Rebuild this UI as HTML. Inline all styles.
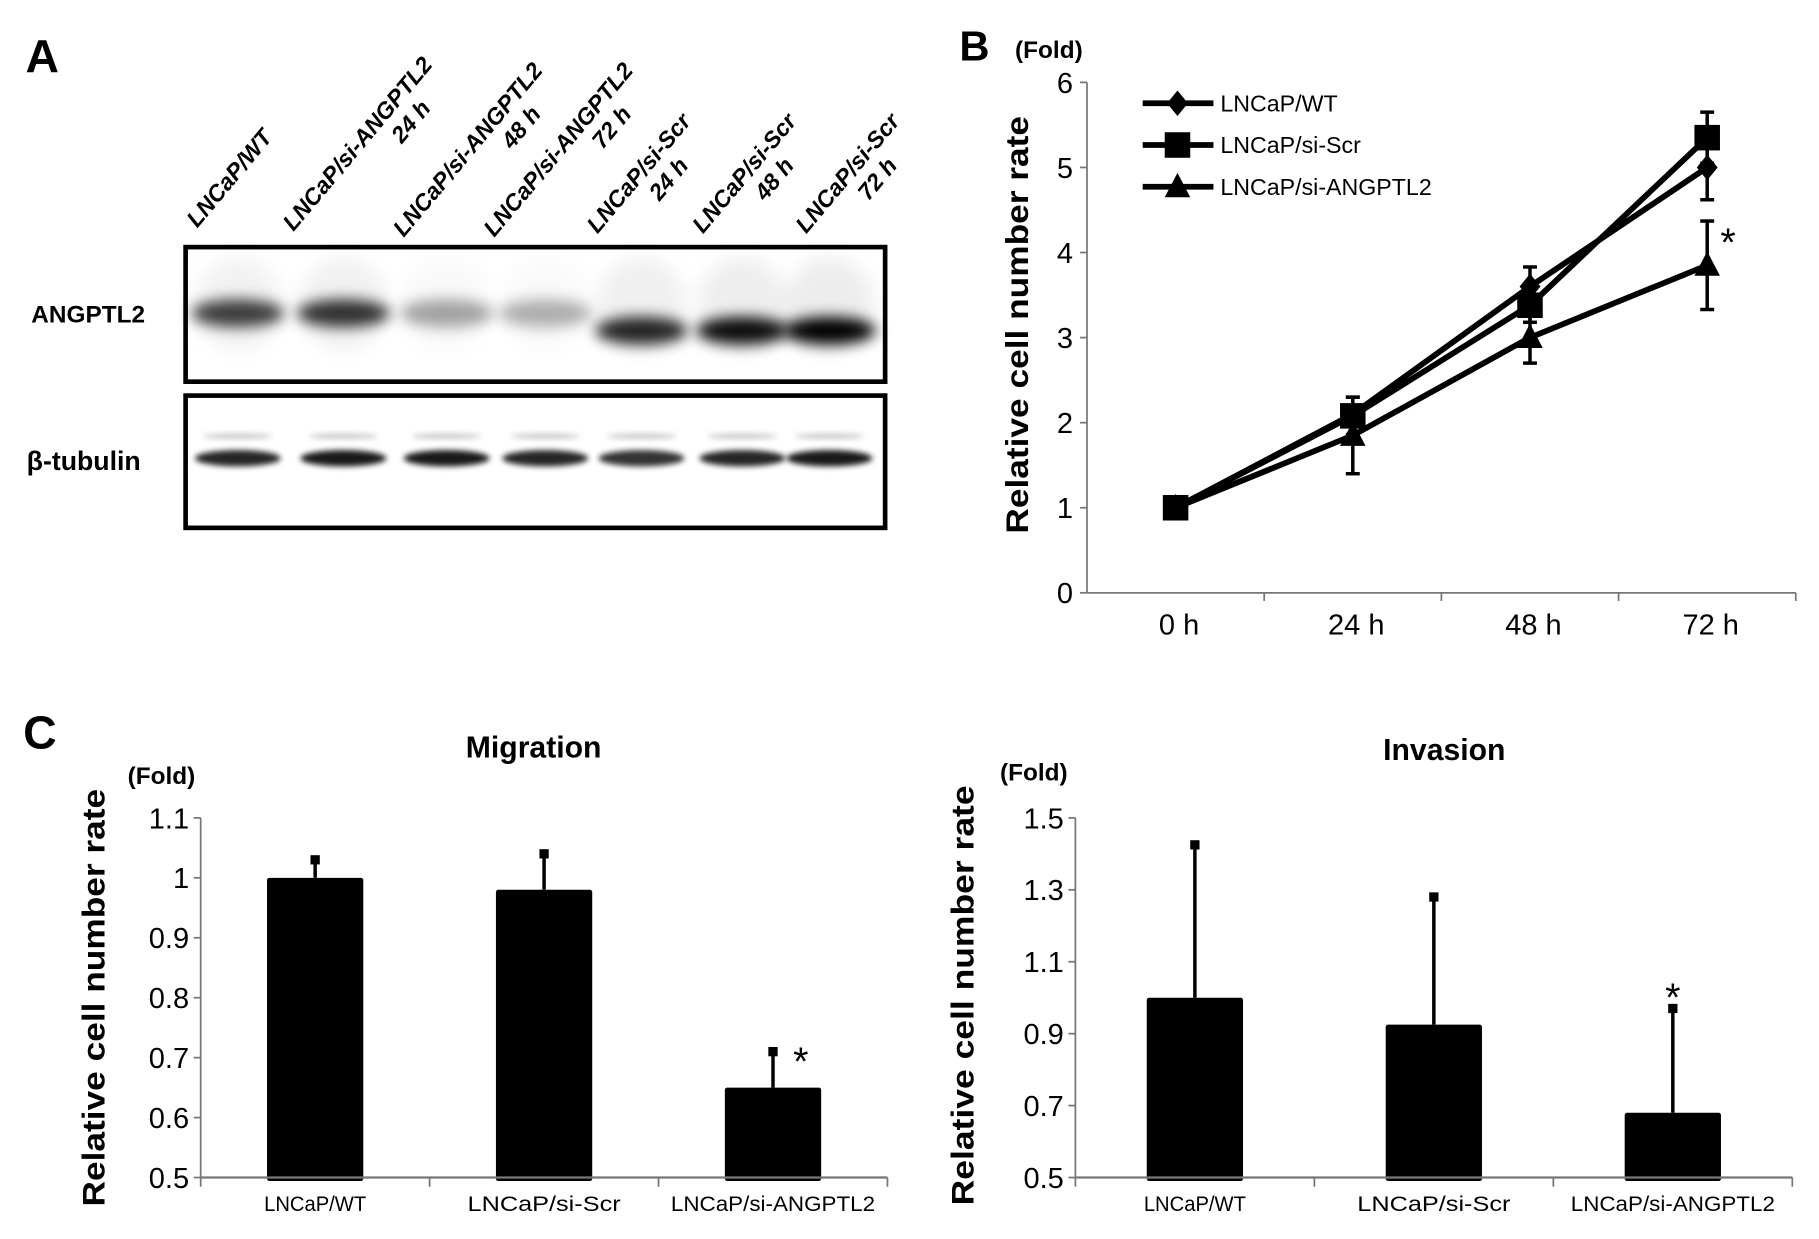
<!DOCTYPE html>
<html><head><meta charset="utf-8"><style>
html,body{margin:0;padding:0;background:#fff;}
svg{display:block;}
text{font-family:"Liberation Sans","DejaVu Sans",sans-serif;fill:#000;}
</style></head><body>
<svg id="fig" width="1819" height="1239" viewBox="0 0 1568 1068" preserveAspectRatio="none" xmlns="http://www.w3.org/2000/svg">
<defs>
<filter id="blur" x="-50%" y="-100%" width="200%" height="300%"><feGaussianBlur stdDeviation="6"/></filter>
<filter id="blur2" x="-50%" y="-100%" width="200%" height="300%"><feGaussianBlur stdDeviation="2.5"/></filter>
<filter id="blur3" x="-50%" y="-50%" width="200%" height="200%"><feGaussianBlur stdDeviation="8"/></filter>
</defs>
<g id="panelA">
<text x="22" y="62" font-size="40" font-weight="bold">A</text>
<g id="laneLabels"></g>
<rect x="160" y="213" width="603" height="116" fill="#fff" stroke="#000" stroke-width="4"/>
<rect x="160" y="341" width="603" height="114" fill="#fff" stroke="#000" stroke-width="4"/>
<g id="bands"></g>
<text x="27" y="278" font-size="21" font-weight="bold">ANGPTL2</text>
<text x="23" y="405" font-size="23" font-weight="bold">β-tubulin</text>
</g>
<g id="panelB">
<text x="827" y="52" font-size="36" font-weight="bold">B</text>
<text x="875" y="50" font-size="21" font-weight="bold">(Fold)</text>
<text transform="translate(886,280) rotate(-90)" text-anchor="middle" font-size="27" font-weight="bold" textLength="360" lengthAdjust="spacingAndGlyphs">Relative cell number rate</text>
<g id="bChart"></g>
</g>
<g id="panelC">
<text x="20" y="645" font-size="40" font-weight="bold">C</text>
<text x="460" y="653" text-anchor="middle" font-size="26" font-weight="bold">Migration</text>
<text x="1245" y="655" text-anchor="middle" font-size="26" font-weight="bold">Invasion</text>
<text x="110" y="676" font-size="21" font-weight="bold">(Fold)</text>
<text x="862" y="673" font-size="21" font-weight="bold">(Fold)</text>
<text transform="translate(90,860) rotate(-90)" text-anchor="middle" font-size="27" font-weight="bold" textLength="360" lengthAdjust="spacingAndGlyphs">Relative cell number rate</text>
<text transform="translate(839,858) rotate(-90)" text-anchor="middle" font-size="27" font-weight="bold" textLength="362" lengthAdjust="spacingAndGlyphs">Relative cell number rate</text>
<g id="cMig"></g>
<g id="cInv"></g>
</g>
</svg>
<script>
// ---- Panel A data ----
const laneLine1 = ["LNCaP/WT","LNCaP/si-ANGPTL2","LNCaP/si-ANGPTL2","LNCaP/si-ANGPTL2","LNCaP/si-Scr","LNCaP/si-Scr","LNCaP/si-Scr"];
const laneLine2 = ["","24 h","48 h","72 h","24 h","48 h","72 h"];
const angptl2Intensity = [0.75,0.8,0.35,0.3,0.85,0.95,1.0];
const tubulinIntensity = [0.85,0.9,0.9,0.85,0.8,0.85,0.9];
// ---- Panel B data ----
const bCategories = ["0 h","24 h","48 h","72 h"];
const bTicks = [0,1,2,3,4,5,6];
const bSeriesNames = ["LNCaP/WT","LNCaP/si-Scr","LNCaP/si-ANGPTL2"];
const bWT = [1,2.1,3.6,5.0];
const bScr = [1,2.08,3.38,5.35];
const bSi = [1,1.85,3.0,3.85];
const bWTErr = [0.05,0.1,0.23,0.38];
const bScrErr = [0.05,0.22,0.2,0.3];
const bSiErr = [0.05,0.45,0.3,0.52];
// ---- Panel C data ----
const cCategories = ["LNCaP/WT","LNCaP/si-Scr","LNCaP/si-ANGPTL2"];
const migValues = [1.0,0.98,0.65];
const migErr = [0.03,0.06,0.06];
const migTicks = ["0.5","0.6","0.7","0.8","0.9","1","1.1"];
const invValues = [1.0,0.925,0.68];
const invErr = [0.425,0.355,0.29];
const invTicks = ["0.5","0.7","0.9","1.1","1.3","1.5"];

const NS="http://www.w3.org/2000/svg";
function mk(tag,attrs,parent,txt){const e=document.createElementNS(NS,tag);for(const k in attrs)e.setAttribute(k,attrs[k]);if(txt!==undefined)e.textContent=txt;parent.appendChild(e);return e;}

// Panel A
const laneX=[205,296,385,470,553,640,715];
const labStart=[[170,197],[253,200],[348,205],[426,205],[515,202],[606,202],[695,202]];
const ll=document.getElementById('laneLabels');
laneLine1.forEach((t,i)=>{
  const g=mk('g',{transform:`translate(${labStart[i][0]},${labStart[i][1]}) rotate(-50)`},ll);
  
  
  mk('text',{x:0,y:0,'font-size':20,'font-weight':'bold','font-style':'italic'},g,t);
  if(laneLine2[i]){const isScr=t.indexOf('Scr')>=0;
    mk('text',{x:isScr?96:158,y:23,'text-anchor':'end','font-size':20,'font-weight':'bold','font-style':'italic'},g,laneLine2[i]);}
});
const bd=document.getElementById('bands');
laneX.forEach((x,i)=>{
  const a=angptl2Intensity[i];
  const y=i>=4?285:270;
  mk('ellipse',{cx:x,cy:262,rx:38,ry:40,fill:`rgba(0,0,0,${a*0.07})`,filter:'url(#blur3)'},bd);
  const e=mk('ellipse',{cx:x,cy:y,rx:40,ry:12,fill:`rgba(0,0,0,${a})`,filter:'url(#blur)'},bd);
  
  
  const t=mk('ellipse',{cx:x,cy:395,rx:37,ry:7,fill:`rgba(0,0,0,${tubulinIntensity[i]})`,filter:'url(#blur2)'},bd);
  
  
  mk('ellipse',{cx:x,cy:376,rx:30,ry:2,fill:'rgba(0,0,0,0.25)',filter:'url(#blur2)'},bd);
});

// Panel B
const bg=document.getElementById('bChart');
const bx0=937,bx1=1548,by0=511,by1=71;
const bY=v=>by0-(v-0)/6*(by0-by1);
const bStep=(bx1-bx0)/bCategories.length;
const bX=i=>bx0+bStep*(i+0.5);
mk('line',{x1:bx0,y1:by1,x2:bx0,y2:by0,stroke:'#777','stroke-width':1.5},bg);
mk('line',{x1:bx0,y1:by0,x2:bx1,y2:by0,stroke:'#777','stroke-width':1.5},bg);
bTicks.forEach(v=>{
  mk('line',{x1:bx0-6,y1:bY(v),x2:bx0,y2:bY(v),stroke:'#777','stroke-width':1.5},bg);
  const t=mk('text',{x:bx0-12,y:bY(v)+9,'text-anchor':'end','font-size':25},bg,String(v));
  
  
});
bCategories.forEach((c,i)=>{
  mk('line',{x1:bx0+bStep*(i+1),y1:by0,x2:bx0+bStep*(i+1),y2:by0+7,stroke:'#777','stroke-width':1.5},bg);
  const t=mk('text',{x:bX(i)+3,y:by0+36,'text-anchor':'middle','font-size':25},bg,c);
  
  
});
function marker(shape,x,y,parent){
  let m;
  if(shape==='diamond') m=mk('polygon',{points:`${x},${y-11} ${x+9},${y} ${x},${y+11} ${x-9},${y}`},parent);
  else if(shape==='square') m=mk('rect',{x:x-11,y:y-11,width:22,height:22},parent);
  else m=mk('polygon',{points:`${x},${y-12} ${x+11},${y+9} ${x-11},${y+9}`},parent);
  m.setAttribute('fill','#000');
  return m;
}
const series=[[bWT,bWTErr,'diamond'],[bScr,bScrErr,'square'],[bSi,bSiErr,'triangle']];
series.forEach((s,si)=>{
  const g=mk('g',{},bg);
  
  
  const pts=s[0].map((v,i)=>`${bX(i)},${bY(v)}`).join(' ');
  mk('polyline',{points:pts,fill:'none',stroke:'#000','stroke-width':5},g);
  s[0].forEach((v,i)=>{
    const top=bY(v+s[1][i]), bot=bY(v-s[1][i]);
    mk('line',{x1:bX(i),y1:top,x2:bX(i),y2:bot,stroke:'#000','stroke-width':3},g);
    mk('line',{x1:bX(i)-6,y1:top,x2:bX(i)+6,y2:top,stroke:'#000','stroke-width':3},g);
    mk('line',{x1:bX(i)-6,y1:bot,x2:bX(i)+6,y2:bot,stroke:'#000','stroke-width':3},g);
    const m=marker(s[2],bX(i),bY(v),g);
    
    
  });
  const ly=89+si*36;
  const lg=mk('g',{},bg);
  
  
  mk('line',{x1:985,y1:ly,x2:1046,y2:ly,stroke:'#000','stroke-width':5},lg);
  marker(s[2],1015,ly,lg);
  mk('text',{x:1052,y:ly+7,'font-size':20},lg,bSeriesNames[si]);
});
const st=mk('text',{x:1483,y:bY(bSi[3]+bSiErr[3])+30,'font-size':34},bg,'*');



// Panel C
function barChart(gid,x0,x1,y0,y1,ticks,values,errs,name){
  const g=document.getElementById(gid);
  const tmin=parseFloat(ticks[0]),tmax=parseFloat(ticks[ticks.length-1]);
  const Y=v=>y0-(v-tmin)/(tmax-tmin)*(y0-y1);
  const step=(x1-x0)/values.length;
  const X=i=>x0+step*(i+0.5);
  mk('line',{x1:x0,y1:y1,x2:x0,y2:y0+8,stroke:'#777','stroke-width':1.5},g);
  ticks.forEach(t=>{
    const v=parseFloat(t);
    mk('line',{x1:x0-6,y1:Y(v),x2:x0,y2:Y(v),stroke:'#777','stroke-width':1.5},g);
    const e=mk('text',{x:x0-10,y:Y(v)+9,'text-anchor':'end','font-size':25},g,t);
    
    
  });
  values.forEach((v,i)=>{
    const bw=83;
    const top=Y(v+errs[i]);
    mk('line',{x1:X(i),y1:top,x2:X(i),y2:Y(v),stroke:'#000','stroke-width':3},g);
    mk('rect',{x:X(i)-4,y:top-4,width:8,height:8,fill:'#000'},g);
    const r=mk('rect',{x:X(i)-bw/2,y:Y(v),width:bw,height:y0-Y(v)+3,fill:'#000',rx:2},g);
    
    
    mk('line',{x1:x0+step*(i+1),y1:y0,x2:x0+step*(i+1),y2:y0+8,stroke:'#777','stroke-width':1.5},g);
    const t=mk('text',{x:X(i),y:y0+29,'text-anchor':'middle','font-size':18,textLength:cCategories[i].length*11,lengthAdjust:'spacingAndGlyphs'},g,cCategories[i]);
    
    
  });
  mk('line',{x1:x0,y1:y0,x2:x1,y2:y0,stroke:'#777','stroke-width':2},g);
  const last=values.length-1;
  const s=mk('text',{x:X(last)+(name==='migration'?24:0),y:Y(values[last]+errs[last])+(name==='migration'?20:2),'text-anchor':'middle','font-size':34},g,'*');
  
  
}
barChart('cMig',173,765,1015,705,migTicks,migValues,migErr,'migration');
barChart('cInv',927,1545,1015,705,invTicks,invValues,invErr,'invasion');
</script>
</body></html>
